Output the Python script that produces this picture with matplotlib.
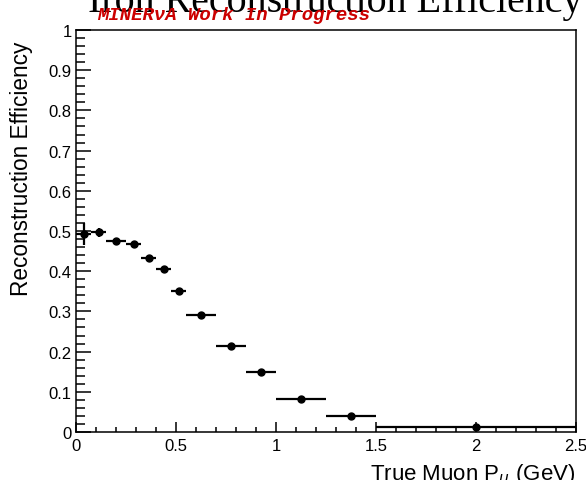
import matplotlib as mpl
mpl.use("Agg")
import matplotlib.pyplot as plt
from matplotlib.ticker import MultipleLocator, FuncFormatter
import numpy as np

# bin edges in true muon momentum (GeV)
binEdges = [0, 0.075, 0.15, 0.25, 0.325, 0.4, 0.475, 0.55, 0.7, 0.85, 1.0, 1.25, 1.5, 2.5]
efficiency = [0.493, 0.497, 0.476, 0.468, 0.432, 0.405, 0.351, 0.292, 0.213, 0.149, 0.083, 0.040, 0.013]
effError = [0.028, 0.011, 0.005, 0.005, 0.005, 0.005, 0.005, 0.004, 0.004, 0.004, 0.003, 0.003, 0.006]

edges = np.array(binEdges)
centers = 0.5 * (edges[:-1] + edges[1:])
halfWidths = 0.5 * (edges[1:] - edges[:-1])

plt.rcParams['font.family'] = ['Liberation Sans', 'DejaVu Sans']

fig = plt.figure(figsize=(5.86, 4.81), dpi=100)
ax = fig.add_axes([0.1297, 0.0998, 0.8533, 0.8358])

ax.errorbar(centers, efficiency, xerr=halfWidths, yerr=effError,
            fmt='o', color='black', markersize=5, elinewidth=1.6, capsize=0)

ax.set_xlim(0, 2.5)
ax.set_ylim(0, 1)

ax.xaxis.set_major_locator(MultipleLocator(0.5))
ax.xaxis.set_minor_locator(MultipleLocator(0.1))
ax.yaxis.set_major_locator(MultipleLocator(0.1))
ax.yaxis.set_minor_locator(MultipleLocator(0.02))
fmt = FuncFormatter(lambda v, p: '%g' % round(v, 3))
ax.xaxis.set_major_formatter(fmt)
ax.yaxis.set_major_formatter(fmt)

ax.tick_params(axis='y', which='major', direction='in', length=11, width=1.1, labelsize=12, pad=3)
ax.tick_params(axis='y', which='minor', direction='in', length=6.5, width=1.1)
ax.tick_params(axis='x', which='major', direction='in', length=7, width=1.1, labelsize=12, pad=4)
ax.tick_params(axis='x', which='minor', direction='in', length=3.6, width=1.1)
for s in ax.spines.values():
    s.set_linewidth(1.1)

fig.text(0.036, 0.649, "Reconstruction Efficiency", rotation=90, ha='center', va='center', fontsize=16.3)
fig.text(575 / 586, 1 - 480 / 481, "True Muon P$_{\\mu}$ (GeV)", ha='right', va='baseline', fontsize=16)

fig.text(583 / 586, 1 - 12 / 481, "Iron Reconstruction Efficiency", ha='right', va='baseline',
         fontsize=28.8, family='Liberation Serif')
fig.text(97 / 586, 1 - 20 / 481, "MINER\u03bdA Work In Progress", ha='left', va='baseline',
         fontsize=13.7, color='#cc0000', family=['Liberation Mono', 'DejaVu Sans Mono'],
         weight='bold', style='italic')

plt.savefig("out.png", dpi=100)
